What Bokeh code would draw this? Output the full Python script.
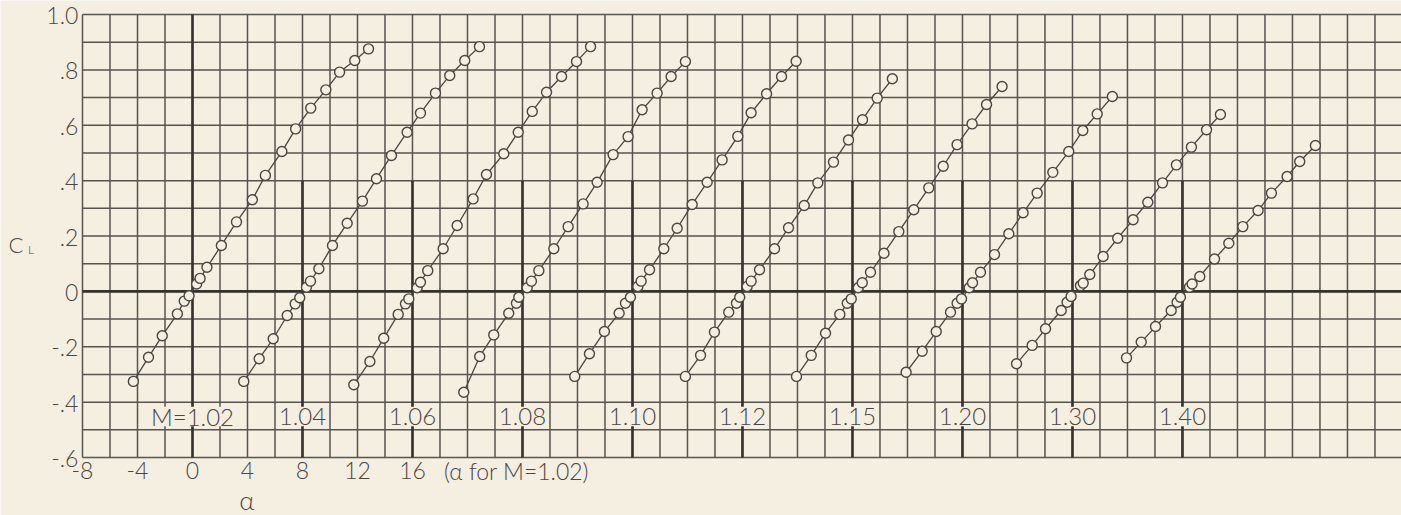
from bokeh.plotting import figure
from bokeh.models import Range1d
from bokeh.core.properties import value
from bokeh.embed import file_html
from bokeh.resources import INLINE

# ---------------- data ----------------
mach_labels = ["M=1.02", "1.04", "1.06", "1.08", "1.10", "1.12", "1.15", "1.20", "1.30", "1.40"]
mach_offsets = [0, 8, 16, 24, 32, 40, 48, 56, 64, 72]  # alpha shift of each curve (deg)

a_102 = [-4.3, -3.2, -2.2, -1.1, -0.6, -0.25, 0.3, 0.55, 1.05, 2.1, 3.2, 4.35, 5.3, 6.5, 7.5, 8.6, 9.7, 10.7, 11.8, 12.8]
cl_102 = [-0.325, -0.238, -0.16, -0.081, -0.035, -0.016, 0.027, 0.047, 0.087, 0.166, 0.251, 0.331, 0.419, 0.505, 0.587, 0.662, 0.728, 0.792, 0.834, 0.876]

a_104 = [-4.27, -3.15, -2.13, -1.11, -0.53, -0.2, 0.29, 0.58, 1.19, 2.18, 3.25, 4.36, 5.38, 6.47, 7.61, 8.58, 9.67, 10.71, 11.8, 12.87]
cl_104 = [-0.325, -0.243, -0.171, -0.087, -0.045, -0.023, 0.015, 0.037, 0.082, 0.166, 0.246, 0.326, 0.407, 0.491, 0.575, 0.644, 0.716, 0.78, 0.834, 0.884]

a_106 = [-4.27, -3.1, -2.09, -1.04, -0.51, -0.27, 0.34, 0.58, 1.11, 2.23, 3.25, 4.41, 5.38, 6.64, 7.69, 8.71, 9.75, 10.84, 11.93, 12.95]
cl_106 = [-0.337, -0.253, -0.169, -0.083, -0.045, -0.027, 0.013, 0.033, 0.075, 0.154, 0.238, 0.334, 0.422, 0.497, 0.575, 0.65, 0.719, 0.776, 0.83, 0.884]

a_108 = [-4.27, -3.11, -2.09, -1.0, -0.44, -0.27, 0.34, 0.65, 1.19, 2.28, 3.32, 4.41, 5.43, 6.59, 7.68, 8.7, 9.79, 10.81, 11.85]
cl_108 = [-0.364, -0.235, -0.157, -0.079, -0.043, -0.021, 0.013, 0.037, 0.075, 0.154, 0.234, 0.316, 0.394, 0.494, 0.559, 0.656, 0.716, 0.776, 0.83]

a_110 = [-4.2, -3.13, -2.04, -0.97, -0.51, -0.15, 0.39, 0.63, 1.24, 2.28, 3.25, 4.34, 5.43, 6.52, 7.66, 8.63, 9.75, 10.84, 11.9]
cl_110 = [-0.307, -0.225, -0.145, -0.079, -0.043, -0.021, 0.018, 0.037, 0.078, 0.154, 0.228, 0.314, 0.394, 0.475, 0.56, 0.645, 0.714, 0.776, 0.831]

a_112 = [-4.15, -3.05, -2.04, -1.0, -0.44, -0.2, 0.34, 0.63, 1.24, 2.33, 3.35, 4.49, 5.48, 6.62, 7.71, 8.73, 9.8, 10.9]
cl_112 = [-0.307, -0.231, -0.147, -0.075, -0.043, -0.021, 0.018, 0.037, 0.078, 0.154, 0.23, 0.31, 0.392, 0.467, 0.547, 0.62, 0.698, 0.768]

a_115 = [-4.07, -3.0, -1.96, -0.92, -0.38, -0.09, 0.42, 0.71, 1.31, 2.29, 3.37, 4.46, 5.55, 6.6, 7.61, 8.7, 9.75, 10.88]
cl_115 = [-0.307, -0.231, -0.151, -0.083, -0.043, -0.027, 0.013, 0.031, 0.069, 0.138, 0.216, 0.295, 0.374, 0.452, 0.53, 0.605, 0.675, 0.74]

a_120 = [-4.1, -2.93, -1.91, -0.87, -0.39, -0.07, 0.49, 0.73, 1.31, 2.33, 3.37, 4.41, 5.43, 6.57, 7.73, 8.75, 9.8, 10.9]
cl_120 = [-0.292, -0.216, -0.145, -0.075, -0.043, -0.027, 0.013, 0.031, 0.069, 0.133, 0.208, 0.284, 0.355, 0.43, 0.505, 0.581, 0.641, 0.704]

a_130 = [-4.07, -2.93, -1.96, -0.82, -0.39, -0.1, 0.58, 0.78, 1.26, 2.23, 3.29, 4.41, 5.48, 6.55, 7.56, 8.65, 9.75, 10.76]
cl_130 = [-0.261, -0.195, -0.135, -0.069, -0.039, -0.018, 0.021, 0.03, 0.061, 0.126, 0.192, 0.259, 0.322, 0.392, 0.457, 0.521, 0.584, 0.639]

a_140 = [-4.07, -3.0, -1.96, -0.82, -0.39, -0.15, 0.51, 0.7, 1.26, 2.33, 3.37, 4.39, 5.5, 6.47, 7.61, 8.53, 9.67]
cl_140 = [-0.24, -0.183, -0.127, -0.069, -0.039, -0.021, 0.015, 0.027, 0.054, 0.117, 0.174, 0.234, 0.292, 0.355, 0.415, 0.469, 0.527]

x_ticks = [-8, -4, 0, 4, 8, 12, 16]
x_tick_labels = ["-8", "-4", "0", "4", "8", "12", "16"]
y_ticks = [-0.6, -0.4, -0.2, 0, 0.2, 0.4, 0.6, 0.8, 1.0]
y_tick_labels = ["-.6", "-.4", "-.2", "0", ".2", ".4", ".6", ".8", "1.0"]
x_note = "(α for M=1.02)"
x_title = "α"
y_title = "C"
y_title_sub = "L"

series_alpha = [a_102, a_104, a_106, a_108, a_110, a_112, a_115, a_120, a_130, a_140]
series_cl = [cl_102, cl_104, cl_106, cl_108, cl_110, cl_112, cl_115, cl_120, cl_130, cl_140]

# ---------------- style / layout ----------------
BG = "#f5efe2"
INK = "#4a4642"
GRID = "#57534e"
HEAVY = "#36332f"
FONT = value("Lato Light, Lato")

X_MIN, X_MAX = -8, 88          # grid extent in alpha
Y_MIN, Y_MAX = -0.6, 1.0       # grid extent in CL
VIEW_X = (-13.964, 87.93)      # whole canvas in data units
VIEW_Y = (-0.8093, 1.0506)

p = figure(width=1401, height=515, output_backend="svg", toolbar_location=None,
           x_range=Range1d(*VIEW_X), y_range=Range1d(*VIEW_Y),
           x_axis_location=None, y_axis_location=None, min_border=0)
p.background_fill_color = BG
p.border_fill_color = BG
p.outline_line_color = None
p.grid.visible = False

# graph-paper grid: 2 deg by 0.1 CL
gx = list(range(X_MIN, X_MAX, 2))
gy = [round(Y_MIN + 0.1 * i, 1) for i in range(17)]
p.segment(x0=gx, x1=gx, y0=[Y_MIN] * len(gx), y1=[Y_MAX] * len(gx),
          line_color=GRID, line_width=1.5)
p.segment(x0=[X_MIN] * len(gy), x1=[VIEW_X[1] + 1] * len(gy), y0=gy, y1=gy,
          line_color=GRID, line_width=1.5)

# heavy reference lines
p.segment(x0=[X_MIN], x1=[VIEW_X[1] + 1], y0=[0], y1=[0], line_color=HEAVY, line_width=2.6)
p.segment(x0=mach_offsets, x1=mach_offsets, y0=[Y_MIN] * len(mach_offsets),
          y1=[Y_MAX if o == 0 else 0.4 for o in mach_offsets],
          line_color=HEAVY, line_width=2.6)

# Mach labels on a paper-coloured patch
lab_y = [-0.452] * len(mach_offsets)
p.rect(x=mach_offsets, y=lab_y, width=[0.8 * len(t) for t in mach_labels], height=0.07,
       fill_color=BG, line_color=None)
p.text(x=mach_offsets, y=lab_y, text=mach_labels, text_align="center",
       text_baseline="middle", text_font=FONT, text_font_size="24px", text_color=INK)

# curves
for off, a_list, c_list in zip(mach_offsets, series_alpha, series_cl):
    xs = [a + off for a in a_list]
    p.line(xs, c_list, line_color=INK, line_width=1.3)
    p.scatter(xs, c_list, size=10, marker="circle", fill_color=BG,
              line_color=INK, line_width=1.4)

# tick labels
p.text(x=[X_MIN - 0.3] * len(y_ticks), y=[t - 0.004 for t in y_ticks], text=y_tick_labels,
       text_align="right", text_baseline="middle", text_font=FONT,
       text_font_size="23px", text_color=INK)
p.text(x=x_ticks, y=[-0.647] * len(x_ticks), text=x_tick_labels,
       text_align="center", text_baseline="middle", text_font=FONT,
       text_font_size="23px", text_color=INK)
p.text(x=[18.3], y=[-0.647], text=[x_note], text_align="left", text_baseline="middle",
       text_font=FONT, text_font_size="23px", text_color=INK)
p.text(x=[3.95], y=[-0.752], text=[x_title], text_align="center", text_baseline="middle",
       text_font=FONT, text_font_size="26px", text_color=INK)
p.text(x=[-12.85], y=[0.168], text=[y_title], text_align="center", text_baseline="middle",
       text_font=FONT, text_font_size="22px", text_color=INK)
p.text(x=[-11.75], y=[0.152], text=[y_title_sub], text_align="center", text_baseline="middle",
       text_font=FONT, text_font_size="12px", text_color=INK)

open("out.html", "w").write(file_html(p, INLINE))
